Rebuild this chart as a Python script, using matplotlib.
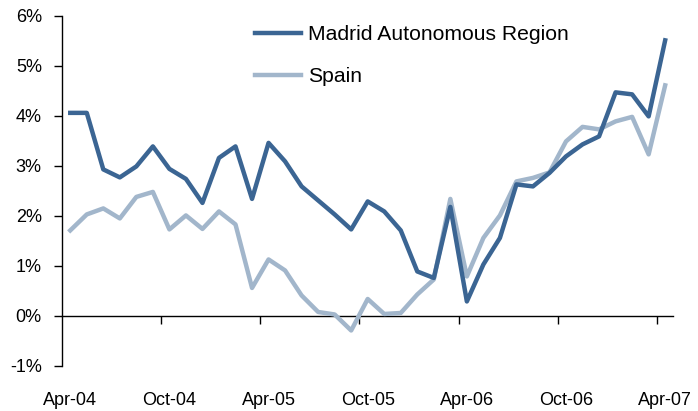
import matplotlib
matplotlib.use("Agg")
import matplotlib.pyplot as plt
import numpy as np

plt.rcParams['font.family'] = ['Liberation Sans', 'DejaVu Sans']

DARK = "#3b6593"
LIGHT = "#a2b6cb"

# monthly, Apr-04 .. Apr-07
madrid = [4.06, 4.06, 2.93, 2.77, 2.99, 3.39, 2.94, 2.74, 2.26, 3.16, 3.39, 2.34,
          3.46, 3.09, 2.59, 2.31, 2.03, 1.73, 2.29, 2.09, 1.71, 0.89, 0.76, 2.18,
          0.29, 1.03, 1.56, 2.63, 2.59, 2.86, 3.19, 3.43, 3.59, 4.47, 4.43, 3.99,
          5.51]
spain = [1.71, 2.03, 2.15, 1.95, 2.38, 2.48, 1.73, 2.01, 1.74, 2.09, 1.83, 0.56,
         1.13, 0.91, 0.41, 0.08, 0.03, -0.29, 0.34, 0.04, 0.06, 0.43, 0.73, 2.34,
         0.79, 1.56, 2.01, 2.69, 2.76, 2.87, 3.49, 3.78, 3.73, 3.89, 3.98, 3.23,
         4.61]
xlabels = ["Apr-04", "Oct-04", "Apr-05", "Oct-05", "Apr-06", "Oct-06", "Apr-07"]
yticks = [-1, 0, 1, 2, 3, 4, 5, 6]

x = np.arange(len(madrid))

fig = plt.figure(figsize=(6.98, 4.11), dpi=100)
ax = fig.add_axes([0.0888, 0.1095, 0.876, 0.852])

ax.plot(x, madrid, color=DARK, lw=3.2, label="Madrid Autonomous Region", zorder=3)
ax.plot(x, spain, color=LIGHT, lw=3.2, label="Spain", zorder=2)

ax.set_xlim(-0.5, len(x) - 0.5)
ax.set_ylim(-1, 6)
ax.set_yticks(yticks)
ax.set_yticklabels([f"{v}%" for v in yticks])
ax.tick_params(axis='y', direction='out', length=6, width=1, labelsize=13, pad=8.5)

# labels at the bottom, tick marks on the zero line
ax.set_xticks(x[::6])
ax.set_xticklabels(xlabels)
ax.tick_params(axis='x', length=0, labelsize=13, pad=19)

sec = ax.secondary_xaxis(0, transform=ax.transData)
sec.set_xticks(np.arange(5.5, len(x), 6))
sec.set_xticklabels([])
sec.tick_params(axis='x', direction='out', length=6, width=1)
sec.spines['bottom'].set_linewidth(1)

for s in ['top', 'right', 'bottom']:
    ax.spines[s].set_visible(False)
ax.spines['left'].set_linewidth(1)

ax.legend(loc='upper left', bbox_to_anchor=(0.285, 1.027), frameon=False,
          fontsize=15.2, handlelength=2.18, handletextpad=0.3, labelspacing=1.08)

fig.savefig("out.png", dpi=100)
